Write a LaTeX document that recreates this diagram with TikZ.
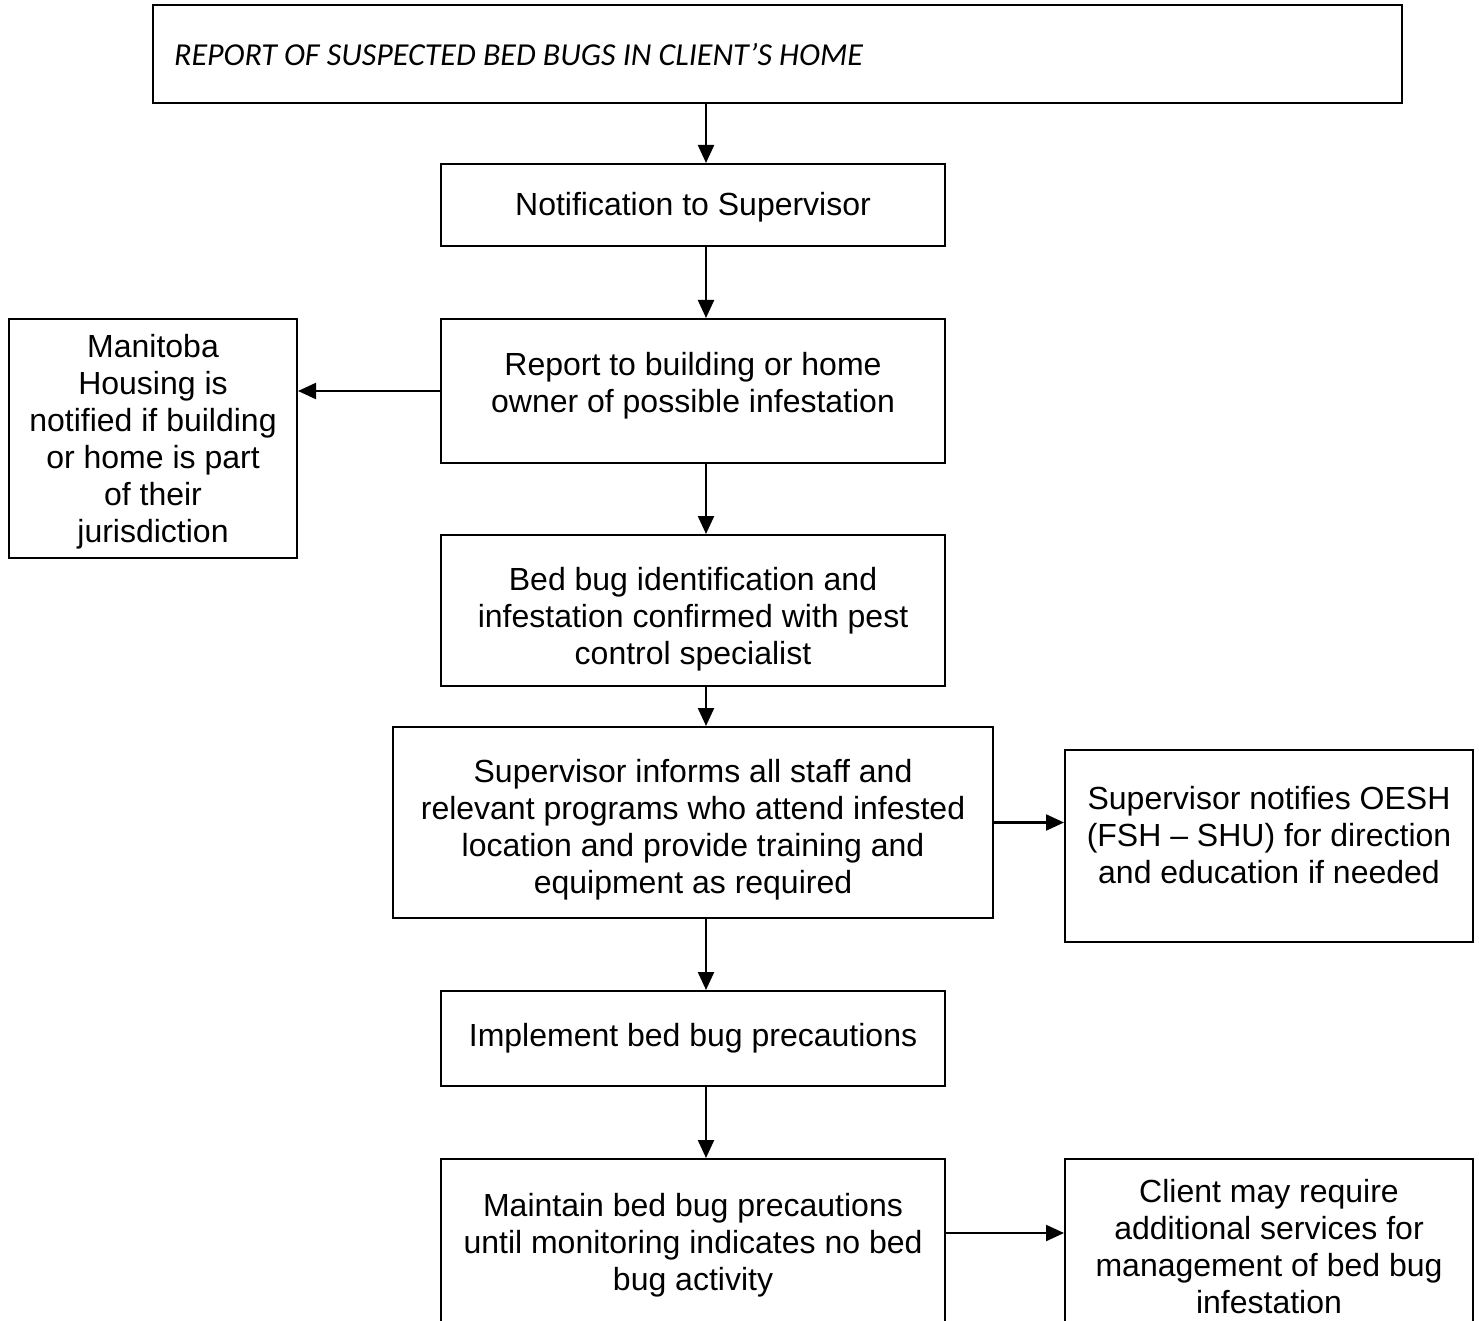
\documentclass[tikz,border=0pt]{standalone}
\usepackage{fontspec}
\setmainfont{Liberation Sans}
\newfontfamily\calib{Carlito}
\usetikzlibrary{arrows.meta}
\begin{document}
\begin{tikzpicture}[x=1pt,y=-1pt,
  box/.style={draw,line width=2pt,rectangle,inner sep=0pt},
  txt/.style={align=center,font=\fontsize{32}{37}\selectfont,inner sep=0pt},
  arr/.style={line width=2.2pt,-{Triangle[length=18pt,width=16pt]}}]
\useasboundingbox (0,0) rectangle (1479,1321);
\clip (0,0) rectangle (1479,1321);
% boxes
\node[box,minimum width=1249pt,minimum height=98pt] (top) at (777.5,54) {};
\node[box,minimum width=504pt,minimum height=82pt] (notif) at (693,205) {};
\node[box,minimum width=504pt,minimum height=144pt] (rep) at (693,391) {};
\node[box,minimum width=288pt,minimum height=239pt] (mb) at (153,438.5) {};
\node[box,minimum width=504pt,minimum height=151pt] (ident) at (693,610.5) {};
\node[box,minimum width=600pt,minimum height=191pt] (inf) at (693,822.5) {};
\node[box,minimum width=408pt,minimum height=192pt] (oesh) at (1269,846) {};
\node[box,minimum width=504pt,minimum height=95pt] (impl) at (693,1038.5) {};
\node[box,minimum width=504pt,minimum height=200pt] (maint) at (693,1259) {};
\node[box,minimum width=408pt,minimum height=200pt] (client) at (1269,1259) {};
% texts
\node[anchor=base west,inner sep=0pt,font=\calib\itshape\fontsize{32}{38}\selectfont] (ttop) at (174,66) {REPORT OF SUSPECTED BED BUGS IN CLIENT’S HOME};
\node[txt] (tnotif) at (693,207) {Notification to Supervisor};
\node[txt] (trep) at (693,386) {Report to building or home\\owner of possible infestation};
\node[txt] (tmb) at (153,442) {Manitoba\\Housing is\\notified if building\\or home is part\\of their\\jurisdiction};
\node[txt] (tident) at (693,619) {Bed bug identification and\\infestation confirmed with pest\\control specialist};
\node[txt] (tinf) at (693,830) {Supervisor informs all staff and\\relevant programs who attend infested\\location and provide training and\\equipment as required};
\node[txt] (toesh) at (1269,835) {Supervisor notifies OESH\\(FSH – SHU) for direction\\and education if needed};
\node[txt] (timpl) at (693,1038) {Implement bed bug precautions};
\node[txt] (tmaint) at (693,1245) {Maintain bed bug precautions\\until monitoring indicates no bed\\bug activity};
\node[txt] (tclient) at (1269,1247) {Client may require\\additional services for\\management of bed bug\\infestation};
% arrows
\draw[arr] (top.south -| 706,0) -- (notif.north -| 706,0);
\draw[arr] (notif.south -| 706,0) -- (rep.north -| 706,0);
\draw[arr] (rep.south -| 706,0) -- (ident.north -| 706,0);
\draw[arr] (ident.south -| 706,0) -- (inf.north -| 706,0);
\draw[arr] (inf.south -| 706,0) -- (impl.north -| 706,0);
\draw[arr] (impl.south -| 706,0) -- (maint.north -| 706,0);
\draw[arr] (rep.west) -- (rep.west -| mb.east);
\draw[arr] (inf.east) -- (oesh.west |- inf.east);
\draw[arr] (maint.east |- 0,1233) -- (client.west |- 0,1233);
\end{tikzpicture}
\end{document}
